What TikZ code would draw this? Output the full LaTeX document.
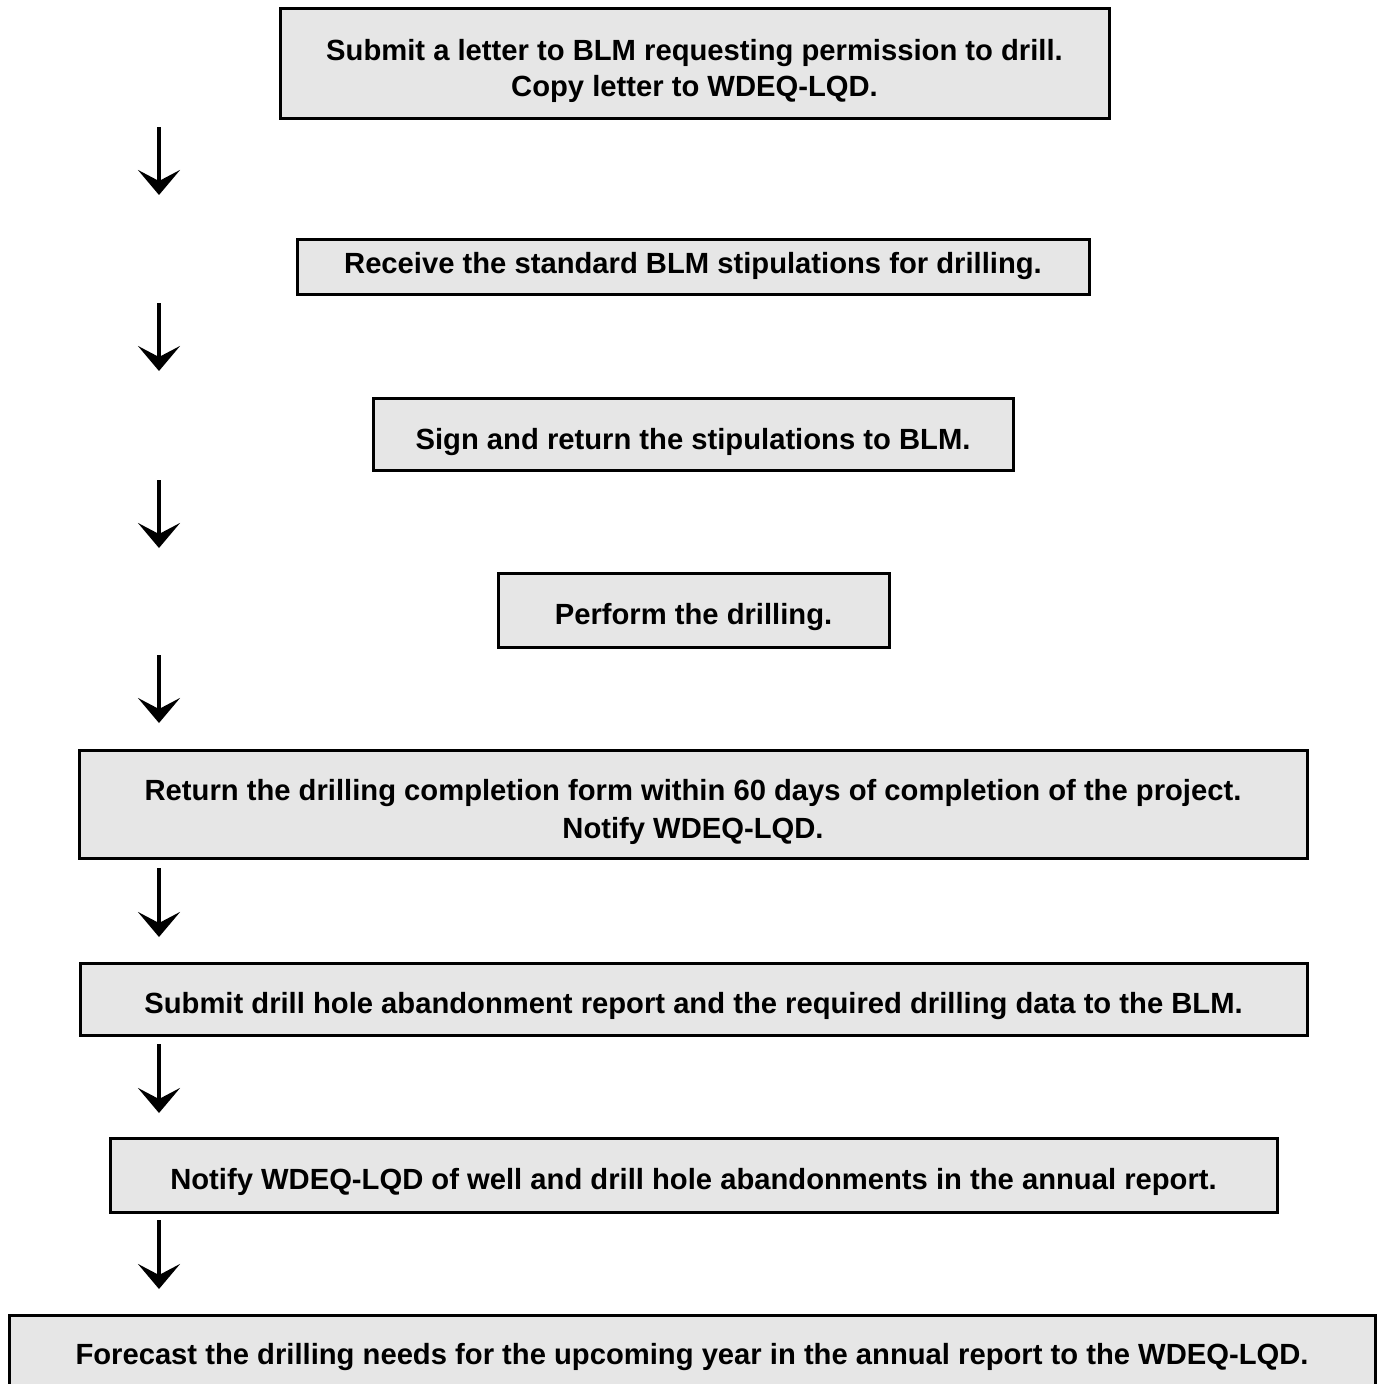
\documentclass[tikz,border=0pt]{standalone}
\usepackage{fontspec}
\setmainfont{Liberation Sans}
\usetikzlibrary{arrows.meta}
\definecolor{boxfill}{HTML}{E6E6E6}
\tikzset{
  stepbox/.style={draw=black, line width=3pt, fill=boxfill, inner sep=0pt, outer sep=0pt},
  steptext/.style={anchor=base, inner sep=0pt, font=\bfseries\fontsize{29.2}{36}\selectfont},
  flowarrow/.style={line width=4pt, -{Stealth[length=25pt,width=42pt,inset=11pt]}}
}
\begin{document}
\begin{tikzpicture}[x=1pt,y=-1pt]
\useasboundingbox (0,0) rectangle (1381,1384);
\node[stepbox, minimum width=829pt, minimum height=110pt] (b1) at (694.5,63) {};
\node[steptext] (t1a) at (694.5,60) {Submit a letter to BLM requesting permission to drill.};
\node[steptext] (t1b) at (694.5,96) {Copy letter to WDEQ-LQD.};
\node[stepbox, minimum width=792pt, minimum height=55pt] (b2) at (693,266.5) {};
\node[steptext] (t2) at (693,273) {Receive the standard BLM stipulations for drilling.};
\node[stepbox, minimum width=640pt, minimum height=72pt] (b3) at (693,434) {};
\node[steptext] (t3) at (693,449) {Sign and return the stipulations to BLM.};
\node[stepbox, minimum width=391pt, minimum height=74pt] (b4) at (693.5,610) {};
\node[steptext] (t4) at (693.5,624) {Perform the drilling.};
\node[stepbox, minimum width=1228pt, minimum height=108pt] (b5) at (693,804) {};
\node[steptext] (t5a) at (693,800) {Return the drilling completion form within 60 days of completion of the project.};
\node[steptext] (t5b) at (693,838) {Notify WDEQ-LQD.};
\node[stepbox, minimum width=1227pt, minimum height=72pt] (b6) at (693.5,999) {};
\node[steptext] (t6) at (693.5,1013) {Submit drill hole abandonment report and the required drilling data to the BLM.};
\node[stepbox, minimum width=1167pt, minimum height=74pt] (b7) at (693.5,1175) {};
\node[steptext] (t7) at (693.5,1189.5) {Notify WDEQ-LQD of well and drill hole abandonments in the annual report.};
\node[stepbox, minimum width=1366pt, minimum height=110pt] (b8) at (692,1370) {};
\node[steptext] (t8) at (692,1364) {Forecast the drilling needs for the upcoming year in the annual report to the WDEQ-LQD.};
\coordinate (a1s) at (159,127); \coordinate (a1e) at (159,195);
\coordinate (a2s) at (159,303); \coordinate (a2e) at (159,371);
\coordinate (a3s) at (159,480); \coordinate (a3e) at (159,548);
\coordinate (a4s) at (159,655); \coordinate (a4e) at (159,723);
\coordinate (a5s) at (159,868); \coordinate (a5e) at (159,937);
\coordinate (a6s) at (159,1044); \coordinate (a6e) at (159,1113);
\coordinate (a7s) at (159,1220); \coordinate (a7e) at (159,1289);
\foreach \i in {1,...,7} \draw[flowarrow] (a\i s) -- (a\i e);
\end{tikzpicture}
\end{document}
